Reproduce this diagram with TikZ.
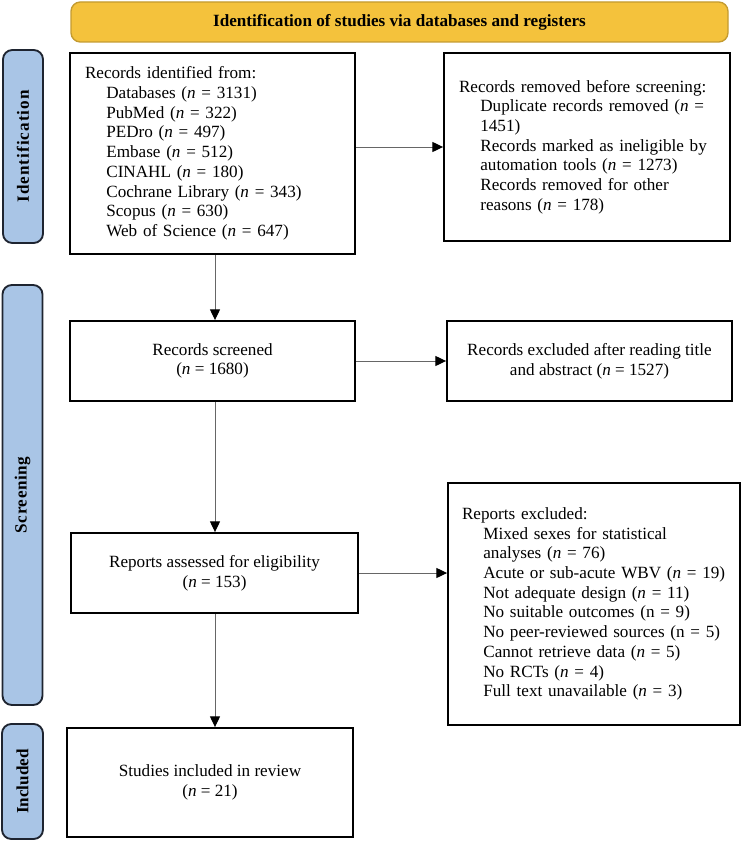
\documentclass[tikz,border=0pt]{standalone}
\usepackage{fontspec}
\setmainfont{Liberation Serif}
\usetikzlibrary{arrows.meta}
\definecolor{bannergold}{HTML}{F4C23C}
\definecolor{bannerline}{HTML}{C49B30}
\definecolor{labelblue}{HTML}{A9C5E6}
\definecolor{labelline}{HTML}{1E2430}
\definecolor{arrowgray}{HTML}{666666}
\newcommand{\fs}{\fontsize{12.85}{14.8}\selectfont}
\newcommand{\ind}{\hspace*{16pt}}
\newcommand{\nn}{\textit{n}}
\begin{document}
\begin{tikzpicture}[x=0.75pt,y=-0.75pt,
  box/.style={draw=black, line width=1.4pt, inner sep=0pt, font=\fs},
  leftbox/.style={box, align=left},
  midbox/.style={box, align=center},
  phase/.style={draw=labelline, fill=labelblue, line width=1.4pt, rounded corners=7pt, inner sep=0pt},
  phasetext/.style={rotate=90, font=\fs\bfseries},
  banner/.style={draw=bannerline, fill=bannergold, line width=1pt, rounded corners=7pt, inner sep=0pt, font=\fs\bfseries},
  arr/.style={draw=arrowgray, line width=0.75pt, -{Triangle[length=8pt,width=7.5pt,color=black]}}
]
\useasboundingbox (0,0) rectangle (742,842);

% banner
\node[banner, minimum width={657*0.75pt}, minimum height={40*0.75pt}] (ban) at (399.5,22) {Identification of studies via databases and registers};

% phase labels
\node[phase, minimum width={40*0.75pt}, minimum height={193*0.75pt}] (p1) at (23,146.5) {};
\node[phasetext] (p1t) at (p1.center) {\addfontfeatures{LetterSpace=6}Identification};
\node[phase, minimum width={40*0.75pt}, minimum height={420*0.75pt}] (p2) at (22.5,495) {};
\node[phasetext] (p2t) at (p2.center) {\addfontfeatures{LetterSpace=3}Screening};
\node[phase, minimum width={41*0.75pt}, minimum height={115*0.75pt}] (p3) at (22.5,781.5) {};
\node[phasetext] (p3t) at (p3.center) {Included};

% boxes
\node[leftbox, minimum width={285*0.75pt}, minimum height={201*0.75pt}, text width={255*0.75pt}] (ident) at (212.5,153.5) {Records identified from:\\
\ind Databases (\nn{} = 3131)\\
\ind PubMed (\nn{} = 322)\\
\ind PEDro (\nn{} = 497)\\
\ind Embase (\nn{} = 512)\\
\ind CINAHL (\nn{} = 180)\\
\ind Cochrane Library (\nn{} = 343)\\
\ind Scopus (\nn{} = 630)\\
\ind Web of Science (\nn{} = 647)};

\node[leftbox, minimum width={286*0.75pt}, minimum height={188*0.75pt}, text width={256*0.75pt}] (removed) at (587,147) {Records removed before screening:\\
\ind Duplicate records removed (\nn{} =\\
\ind 1451)\\
\ind Records marked as ineligible by\\
\ind automation tools (\nn{} = 1273)\\
\ind Records removed for other\\
\ind reasons (\nn{} = 178)};

\node[midbox, minimum width={285*0.75pt}, minimum height={80*0.75pt}] (screened) at (212.5,361) {Records screened\\(\nn{} = 1680)};

\node[midbox, minimum width={285*0.75pt}, minimum height={80*0.75pt}] (excl1) at (589.5,361) {Records excluded after reading title\\and abstract (\nn{} = 1527)};

\node[midbox, minimum width={287*0.75pt}, minimum height={80*0.75pt}] (assessed) at (214.5,573) {Reports assessed for eligibility\\(\nn{} = 153)};

\node[leftbox, minimum width={292*0.75pt}, minimum height={242*0.75pt}, text width={264*0.75pt}] (excl2) at (594,604) {Reports excluded:\\
\ind Mixed sexes for statistical\\
\ind analyses (\nn{} = 76)\\
\ind Acute or sub-acute WBV (\nn{} = 19)\\
\ind Not adequate design (\nn{} = 11)\\
\ind No suitable outcomes (n = 9)\\
\ind No peer-reviewed sources (n = 5)\\
\ind Cannot retrieve data (\nn{} = 5)\\
\ind No RCTs (\nn{} = 4)\\
\ind Full text unavailable (\nn{} = 3)};

\node[midbox, minimum width={286*0.75pt}, minimum height={109*0.75pt}] (included) at (210,782.5) {Studies included in review\\(\nn{} = 21)};

% connectors
\coordinate (col) at (215,0);
\draw[arr] (ident.south -| col) -- (screened.north -| col);
\draw[arr] (screened.south -| col) -- (assessed.north -| col);
\draw[arr] (assessed.south -| col) -- (included.north -| col);
\draw[arr] (ident.east |- removed.west) -- (removed.west);
\draw[arr] (screened.east) -- (excl1.west);
\draw[arr] (assessed.east) -- (excl2.west |- assessed.east);
\end{tikzpicture}
\end{document}
